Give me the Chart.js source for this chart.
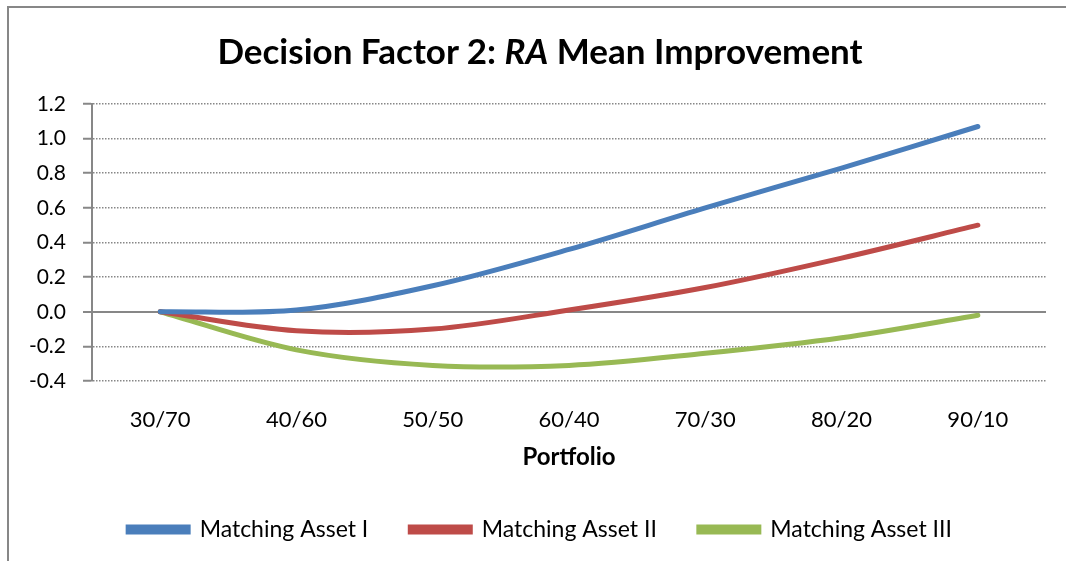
<!DOCTYPE html>
<html>
<head>
<meta charset="utf-8">
<script src="https://cdn.jsdelivr.net/npm/chart.js@4.4.1/dist/chart.umd.min.js"></script>
<style>
    html, body { margin: 0; padding: 0; background: #fff; }
    #wrap { position: relative; width: 1066px; height: 561px; overflow: hidden; }
    #frame { position: absolute; left: 7px; top: 6px; width: 1100px; height: 600px; border: 2px solid #878787; }
    #title {
        position: absolute; left: 0; top: 30px; width: 1080px; text-align: center;
        font-family: Lato, sans-serif; font-weight: bold; font-size: 35px; line-height: 40px; color: #000;
    }
    #chart { position: absolute; left: 0; top: 0; }
</style>
</head>
<body>
<div id="wrap">
    <div id="frame"></div>
    <canvas id="chart" width="1066" height="561"></canvas>
    <div id="title">Decision Factor 2: <i>RA</i> Mean Improvement</div>
</div>
<script>
const portfolios = ['30/70', '40/60', '50/50', '60/40', '70/30', '80/20', '90/10'];
const assetI = [0, 0.01, 0.15, 0.36, 0.60, 0.83, 1.07];
const assetII = [0, -0.11, -0.10, 0.01, 0.14, 0.31, 0.50];
const assetIII = [0, -0.22, -0.31, -0.31, -0.24, -0.15, -0.02];
const seriesNames = ['Matching Asset I', 'Matching Asset II', 'Matching Asset III'];
const colors = ['#4A7EBB', '#BE4B48', '#98B954'];

Chart.defaults.font.family = 'Lato, sans-serif';
Chart.defaults.color = '#000';

const isZero = (ctx) => ctx.tick && Math.abs(ctx.tick.value) < 1e-9;

function makeSet(label, values, color) {
    return {
        label: label,
        data: values,
        borderColor: color,
        backgroundColor: color,
        borderWidth: 5,
        borderCapStyle: 'round',
        pointRadius: 0,
        tension: 0.33
    };
}

// the original legend sits a little right of the canvas centre
const legendShift = {
    id: 'legendShift',
    afterLayout(chart) {
        chart.legend.left += 17;
        chart.legend.right += 17;
    }
};

new Chart(document.getElementById('chart'), {
    type: 'line',
    data: {
        labels: portfolios,
        datasets: [
            makeSet(seriesNames[0], assetI, colors[0]),
            makeSet(seriesNames[1], assetII, colors[1]),
            makeSet(seriesNames[2], assetIII, colors[2])
        ]
    },
    plugins: [legendShift],
    options: {
        responsive: false,
        animation: false,
        layout: { padding: { top: 104, right: 20, bottom: 10, left: 0 } },
        plugins: {
            title: { display: false },
            tooltip: { enabled: false },
            legend: {
                position: 'bottom',
                labels: { boxWidth: 60, boxHeight: 5, padding: 42, font: { size: 23 } }
            }
        },
        scales: {
            x: {
                offset: true,
                grid: { display: false, drawTicks: false },
                border: { display: false },
                ticks: { padding: 26, font: { size: 22 } },
                title: { display: true, text: 'Portfolio', font: { size: 24, weight: 'bold' }, padding: { top: 0, bottom: 4 } },
                afterFit: (scale) => { scale.height = 95; }
            },
            y: {
                min: -0.4,
                max: 1.2,
                ticks: { stepSize: 0.2, padding: 17, font: { size: 21 }, callback: (v) => v.toFixed(1) },
                grid: {
                    color: '#878787',
                    lineWidth: (ctx) => isZero(ctx) ? 2 : 1.5,
                    tickLength: 9,
                    tickColor: '#878787',
                    tickWidth: 2,
                    tickBorderDash: [10, 0]
                },
                border: {
                    display: true,
                    color: '#878787',
                    width: 2,
                    dash: (ctx) => (ctx.tick && !isZero(ctx)) ? [1.5, 1.5] : []
                },
                afterFit: (scale) => { scale.width = 92; }
            }
        }
    }
});
</script>
</body>
</html>
